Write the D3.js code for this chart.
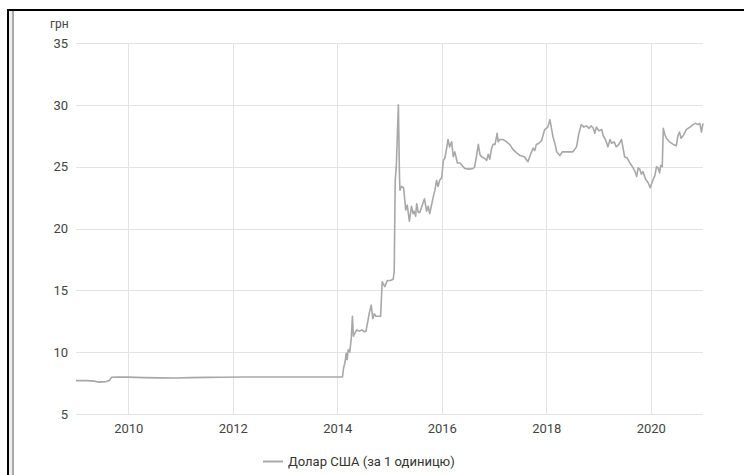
<!DOCTYPE html>
<html>
<head>
<meta charset="utf-8">
<script src="https://cdn.jsdelivr.net/npm/d3@7/dist/d3.min.js"></script>
<style>
  html, body { margin: 0; padding: 0; background: #fff; }
  svg { display: block; }
  text { font-family: Roboto, "Noto Sans", sans-serif; }
</style>
</head>
<body>
<svg id="chart" width="744" height="475"></svg>
<script>
// ---- data ----
const years = [
  2009.00, 2009.20, 2009.35, 2009.42, 2009.50, 2009.58, 2009.64, 2009.68, 2009.80,
  2010.00, 2010.30, 2010.60, 2010.90, 2011.20, 2011.50, 2011.80, 2012.20, 2012.60,
  2013.00, 2013.50, 2014.00, 2014.10,
  2014.12, 2014.15, 2014.17, 2014.19, 2014.21, 2014.24, 2014.27, 2014.29, 2014.31,
  2014.37, 2014.42, 2014.47, 2014.52, 2014.55, 2014.59, 2014.61, 2014.65, 2014.68,
  2014.71, 2014.74, 2014.83, 2014.86, 2014.91, 2014.96, 2015.02, 2015.07,
  2015.09, 2015.11, 2015.13, 2015.17, 2015.19, 2015.20, 2015.23, 2015.27, 2015.31,
  2015.34, 2015.38, 2015.42, 2015.45, 2015.47, 2015.50, 2015.52, 2015.55, 2015.58,
  2015.62, 2015.67, 2015.71, 2015.74, 2015.77, 2015.81, 2015.84, 2015.87, 2015.90,
  2015.93, 2015.96, 2016.00, 2016.03, 2016.06, 2016.09, 2016.12, 2016.15, 2016.19,
  2016.22, 2016.25, 2016.30, 2016.35, 2016.44, 2016.52, 2016.60, 2016.63, 2016.67,
  2016.70, 2016.73, 2016.76, 2016.81, 2016.86, 2016.89, 2016.92, 2016.95, 2016.98,
  2017.02, 2017.06, 2017.08, 2017.11, 2017.17, 2017.24, 2017.30, 2017.37, 2017.44,
  2017.50, 2017.58, 2017.65, 2017.70, 2017.75, 2017.78, 2017.81, 2017.86, 2017.91,
  2017.97, 2018.03, 2018.07, 2018.10, 2018.13, 2018.17, 2018.20, 2018.26, 2018.31,
  2018.36, 2018.44, 2018.51, 2018.58, 2018.62, 2018.67, 2018.72, 2018.77, 2018.82,
  2018.86, 2018.90, 2018.93, 2018.96, 2019.01, 2019.06, 2019.09, 2019.12, 2019.15,
  2019.18, 2019.22, 2019.25, 2019.30, 2019.34, 2019.39, 2019.44, 2019.47, 2019.50,
  2019.55, 2019.60, 2019.65, 2019.70, 2019.73, 2019.76, 2019.79, 2019.82, 2019.85,
  2019.90, 2019.95, 2019.99, 2020.04, 2020.08, 2020.11, 2020.14, 2020.17, 2020.19,
  2020.22, 2020.24, 2020.27, 2020.30, 2020.36, 2020.43, 2020.49, 2020.52, 2020.55,
  2020.58, 2020.62, 2020.68, 2020.75, 2020.81, 2020.86, 2020.90, 2020.94, 2020.97,
  2021.00
];
const rates = [
  7.70, 7.70, 7.66, 7.58, 7.60, 7.62, 7.70, 7.97, 7.99,
  7.98, 7.94, 7.92, 7.91, 7.94, 7.96, 7.97, 7.99, 7.99,
  7.99, 7.99, 7.99, 7.99,
  8.70, 9.20, 9.90, 9.40, 10.20, 10.00, 11.20, 12.90, 11.30,
  11.80, 11.70, 11.80, 11.65, 11.70, 12.60, 13.10, 13.80, 12.70,
  13.10, 12.90, 12.90, 15.70, 15.30, 15.80, 15.80, 15.90,
  16.50, 23.90, 25.00, 30.00, 24.50, 23.10, 23.40, 23.30, 21.50,
  21.90, 20.60, 21.80, 21.20, 21.40, 21.00, 22.00, 21.30, 21.30,
  21.80, 22.40, 21.40, 21.80, 21.20, 22.00, 22.60, 23.10, 23.90,
  23.40, 23.90, 24.10, 25.50, 25.70, 26.40, 27.20, 26.60, 27.00,
  25.80, 26.20, 25.30, 25.30, 24.85, 24.80, 24.85, 25.00, 26.00,
  26.80, 26.00, 25.80, 25.70, 25.50, 26.00, 25.60, 26.40, 26.80,
  26.80, 27.70, 27.00, 27.20, 27.20, 27.00, 26.80, 26.35, 26.10,
  25.90, 25.80, 25.40, 26.00, 26.50, 26.30, 26.80, 26.90, 27.10,
  28.00, 28.20, 28.80, 28.10, 27.40, 26.80, 26.20, 25.90, 26.20,
  26.20, 26.20, 26.20, 26.60, 27.60, 28.40, 28.20, 28.30, 28.10,
  28.30, 28.10, 27.70, 28.20, 27.90, 28.00, 27.50, 27.30, 27.00,
  26.60, 27.20, 26.90, 27.00, 26.60, 26.80, 27.20, 26.50, 25.80,
  25.70, 25.30, 25.00, 24.60, 24.20, 24.90, 24.80, 24.40, 24.60,
  24.00, 23.70, 23.30, 23.90, 24.30, 25.00, 24.90, 24.50, 25.10,
  25.00, 28.10, 27.60, 27.30, 27.00, 26.80, 26.70, 27.50, 27.80,
  27.30, 27.50, 28.00, 28.20, 28.40, 28.50, 28.40, 28.50, 27.80,
  28.50
];
const xTicks = [2010, 2012, 2014, 2016, 2018, 2020];
const yTicks = [5, 10, 15, 20, 25, 30, 35];
const unitLabel = "грн";
const seriesName = "Долар США (за 1 одиницю)";

// ---- layout ----
const svg = d3.select("#chart");
const margin = { left: 76, right: 41, top: 43, bottom: 61 };
const W = 744, H = 475;

// frame
svg.append("rect").attr("x", 7).attr("y", 9).attr("width", W - 7).attr("height", 2).attr("fill", "#000");
svg.append("rect").attr("x", 7).attr("y", 9).attr("width", 2).attr("height", H - 9).attr("fill", "#000");
svg.append("rect").attr("x", 9).attr("y", 11).attr("width", 3).attr("height", H - 11).attr("fill", "#eeeeee");
svg.append("rect").attr("x", 12).attr("y", 11).attr("width", 2).attr("height", H - 11).attr("fill", "#a9a9a9");

const x = d3.scaleLinear().domain([2009, 2021]).range([76, 703]);
const y = d3.scaleLinear().domain([5, 35]).range([414, 43]);

// gridlines
const g = svg.append("g");
g.selectAll("line.h").data(yTicks).join("line")
  .attr("x1", x.range()[0]).attr("x2", x.range()[1])
  .attr("y1", d => Math.round(y(d)) + 0.5).attr("y2", d => Math.round(y(d)) + 0.5)
  .attr("stroke", "#e3e3e3").attr("stroke-width", 1);
g.selectAll("line.v").data(xTicks).join("line")
  .attr("x1", d => Math.round(x(d)) + 0.5).attr("x2", d => Math.round(x(d)) + 0.5)
  .attr("y1", y.range()[1]).attr("y2", y.range()[0])
  .attr("stroke", "#e3e3e3").attr("stroke-width", 1);

// axes (using d3 axes, domain & ticks hidden)
const yAxis = svg.append("g").attr("transform", `translate(${x.range()[0]},0)`)
  .call(d3.axisLeft(y).tickValues(yTicks).tickSize(0).tickPadding(8).tickFormat(d3.format("d")));
yAxis.select(".domain").remove();
yAxis.selectAll("text").attr("font-family", "Roboto, sans-serif").attr("font-size", 13).attr("fill", "#444");

const xAxis = svg.append("g").attr("transform", `translate(0,${y.range()[0]})`)
  .call(d3.axisBottom(x).tickValues(xTicks).tickSize(0).tickPadding(10).tickFormat(d3.format("d")));
xAxis.select(".domain").remove();
xAxis.selectAll("text").attr("font-family", "Roboto, sans-serif").attr("font-size", 13).attr("fill", "#444");

// unit label
svg.append("text").attr("x", 50).attr("y", 28).text(unitLabel)
  .attr("font-size", 12).attr("fill", "#444");

// line
const data = years.map((yr, i) => ({ yr, v: rates[i] }));
svg.append("path").datum(data)
  .attr("fill", "none").attr("stroke", "#a8a8a8").attr("stroke-width", 1.6)
  .attr("stroke-linejoin", "round")
  .attr("d", d3.line().x(d => x(d.yr)).y(d => y(d.v)));

// legend
const lg = svg.append("g");
lg.append("line").attr("x1", 263).attr("x2", 283).attr("y1", 461.5).attr("y2", 461.5)
  .attr("stroke", "#a8a8a8").attr("stroke-width", 2);
lg.append("text").attr("x", 288).attr("y", 466).text(seriesName)
  .attr("font-size", 13).attr("fill", "#333");
</script>
</body>
</html>
